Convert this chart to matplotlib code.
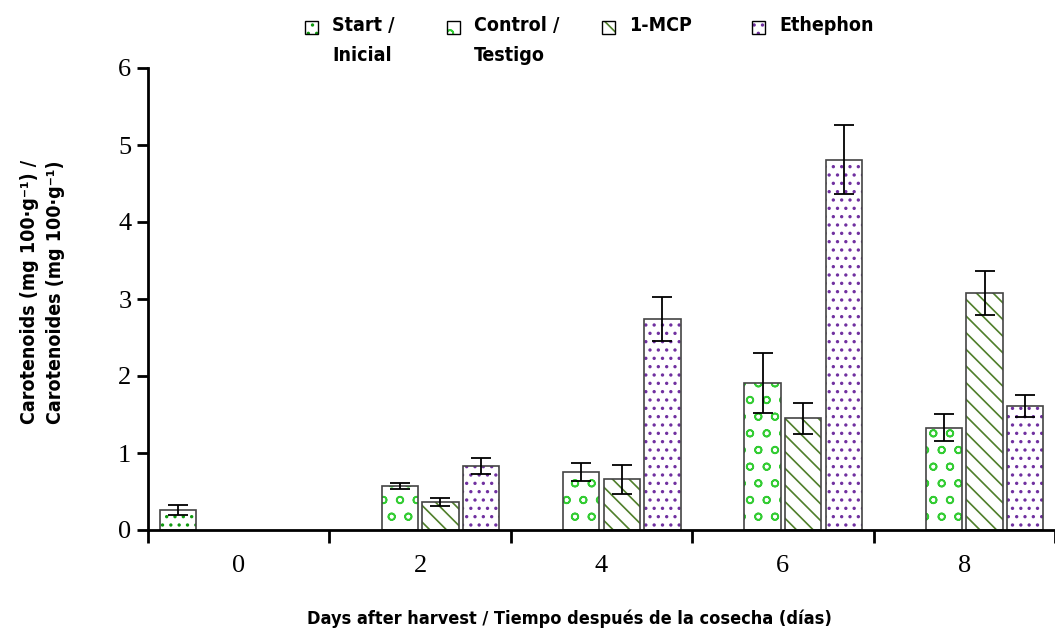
import matplotlib
matplotlib.use("Agg")
import matplotlib.pyplot as plt
from matplotlib.patches import Rectangle
from matplotlib import font_manager
import numpy as np

# data
days = ["0", "2", "4", "6", "8"]
series = ["Start /\nInicial", "Control /\nTestigo", "1-MCP", "Ethephon"]
start = [0.26, np.nan, np.nan, np.nan, np.nan]
start_err = [0.07, 0, 0, 0, 0]
control = [np.nan, 0.575, 0.75, 1.91, 1.33]
control_err = [0, 0.04, 0.12, 0.39, 0.18]
mcp = [np.nan, 0.36, 0.66, 1.45, 3.08]
mcp_err = [0, 0.05, 0.19, 0.20, 0.29]
ethephon = [np.nan, 0.83, 2.74, 4.81, 1.61]
ethephon_err = [0, 0.10, 0.29, 0.45, 0.14]

values = [start, control, mcp, ethephon]
errors = [start_err, control_err, mcp_err, ethephon_err]
hatch_colors = ["#109a10", "#33cc33", "#4f7f2a", "#7030a0"]
hatches = ["..", "o", "\\\\", ".."]


def pick_label_font():
    # prefer a condensed bold face, like the original figure
    for fam, stretch in [("Liberation Sans Narrow", "normal"),
                         ("DejaVu Sans", "condensed")]:
        fp = font_manager.FontProperties(family=fam, weight="bold", stretch=stretch)
        try:
            path = font_manager.findfont(fp, fallback_to_default=False)
        except ValueError:
            continue
        if "Narrow" in path or "Condensed" in path:
            return fam, stretch, 13
    return "Liberation Sans", "normal", 12


label_fam, label_stretch, label_size = pick_label_font()
label_font = [label_fam, "DejaVu Sans"]
tick_font = ["Liberation Serif", "DejaVu Serif"]
lab_kw = dict(family=label_font, fontweight="bold", fontstretch=label_stretch)

plt.rcParams["hatch.linewidth"] = 1.2

fig = plt.figure(figsize=(10.55, 6.37), dpi=100)
ax = fig.add_axes([148 / 1055, 107 / 637, 1 - 148 / 1055, 462 / 637])

x = np.arange(len(days))
slot = 0.224
width = 0.2

for i, (vals, errs) in enumerate(zip(values, errors)):
    pos = x + (i - 1.5) * slot
    ax.bar(pos, vals, width, color="white", edgecolor=hatch_colors[i],
           hatch=hatches[i], linewidth=0)
    ax.bar(pos, vals, width, color="none", edgecolor="#444444",
           linewidth=1.2, yerr=errs,
           error_kw=dict(ecolor="black", elinewidth=1.3, capsize=7, capthick=1.3))

ax.set_xlim(-0.5, 4.456)
ax.set_ylim(0, 6)
ax.set_xticks(x)
ax.set_xticklabels(days)
ax.set_xticks(np.arange(-0.5, 5, 1), minor=True)
ax.tick_params(axis="x", which="major", length=0, pad=18)
ax.tick_params(axis="x", which="minor", length=9, width=2, direction="out")
ax.tick_params(axis="y", length=8, width=2, direction="out", pad=4)
for lab in ax.get_xticklabels() + ax.get_yticklabels():
    lab.set_family(tick_font)
    lab.set_fontsize(19)

ax.spines["top"].set_visible(False)
ax.spines["right"].set_visible(False)
ax.spines["left"].set_linewidth(2)
ax.spines["bottom"].set_linewidth(2)

ax.set_xlabel("Days after harvest / Tiempo después de la cosecha (días)",
              fontsize=label_size, **lab_kw)
ax.xaxis.set_label_coords(0.465, -0.172)
ax.set_ylabel("Carotenoids (mg 100·g⁻¹) /\nCarotenoides (mg 100·g⁻¹)",
              fontsize=label_size + 1, linespacing=1.45, **lab_kw)
ax.yaxis.set_label_coords(-0.092, 0.515)

# legend drawn by hand so the box sits beside the first line of each label
leg_x = [305, 447, 602, 752]
for i, name in enumerate(series):
    bx = leg_x[i] / 1055
    by = 1 - 34 / 637
    fig.patches.append(Rectangle((bx, by), 13 / 1055, 13 / 637,
                                 transform=fig.transFigure, facecolor="white",
                                 edgecolor=hatch_colors[i], hatch=hatches[i],
                                 linewidth=0))
    fig.patches.append(Rectangle((bx, by), 13 / 1055, 13 / 637,
                                 transform=fig.transFigure, facecolor="none",
                                 edgecolor="black", linewidth=1))
    fig.text(bx + 27 / 1055, 1 - 16 / 637, name, va="top", ha="left",
             fontsize=label_size + 1, linespacing=1.75, **lab_kw)

fig.savefig("out.png", dpi=100)
